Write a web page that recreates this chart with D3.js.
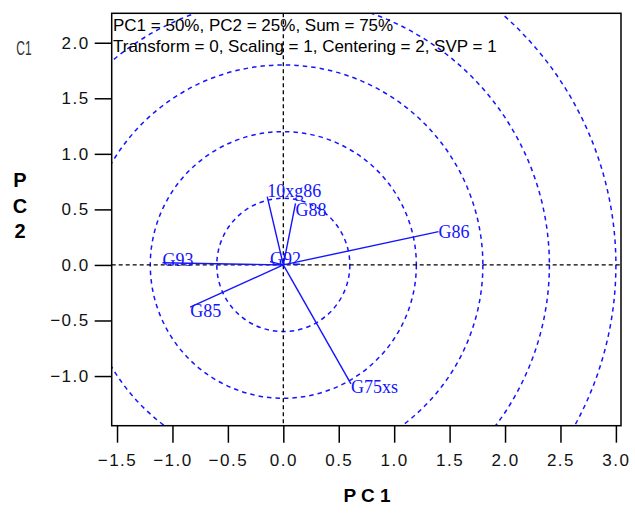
<!DOCTYPE html>
<html>
<head>
<meta charset="utf-8">
<script src="https://cdn.jsdelivr.net/npm/d3@7"></script>
<style>
  html, body { margin: 0; padding: 0; background: #fff; }
  svg { display: block; }
</style>
</head>
<body>
<svg id="chart" width="635" height="515"></svg>
<script>
// ---- data ----
const labels = ["G86", "G75xs", "G85", "G93", "10xg86", "G88", "G92"];
const pc1 = [1.40, 0.61, -0.84, -1.09, -0.145, 0.11, -0.12];
const pc2 = [0.30, -1.07, -0.38, 0.02, 0.615, 0.555, 0.03];
const circleRadii = [0.6, 1.2, 1.8, 2.4, 3.0];
const xTicks = [-1.5, -1.0, -0.5, 0.0, 0.5, 1.0, 1.5, 2.0, 2.5, 3.0];
const yTicks = [-1.0, -0.5, 0.0, 0.5, 1.0, 1.5, 2.0];
const headerLines = ["PC1 = 50%, PC2 = 25%, Sum = 75%", "Transform = 0, Scaling = 1, Centering = 2, SVP = 1"];
const xTitle = "P C 1";
const yTitle = ["P", "C", "2"];
const cornerLabel = "C1";

// ---- layout ----
const frame = { left: 111.7, right: 621, top: 13.3, bottom: 425.7 };
const x = d3.scaleLinear().domain([-1.548, 3.046]).range([frame.left, frame.right]);
const y = d3.scaleLinear().domain([-1.447, 2.265]).range([frame.bottom, frame.top]);
// vertical label nudges (px) to avoid label collisions, as in the original
const labelNudge = { "G86": 0, "G75xs": 3, "G85": 4, "G93": -3, "10xg86": -6, "G88": 7, "G92": -3 };

const svg = d3.select("#chart");
const blue = "#1414ff";

svg.append("defs").append("clipPath").attr("id", "plotclip")
  .append("rect")
  .attr("x", frame.left).attr("y", frame.top)
  .attr("width", frame.right - frame.left).attr("height", frame.bottom - frame.top);

const plot = svg.append("g").attr("clip-path", "url(#plotclip)");

// concentric circles
plot.selectAll("ellipse.ring").data(circleRadii).enter().append("ellipse")
  .attr("class", "ring")
  .attr("cx", x(0)).attr("cy", y(0))
  .attr("rx", d => x(d) - x(0))
  .attr("ry", d => y(0) - y(d))
  .attr("fill", "none")
  .attr("stroke", blue)
  .attr("stroke-width", 1.5)
  .attr("stroke-dasharray", "4.5,4");

// crosshair
plot.append("line")
  .attr("x1", x(0)).attr("x2", x(0))
  .attr("y1", frame.top).attr("y2", frame.bottom)
  .attr("stroke", "#000").attr("stroke-width", 1.3).attr("stroke-dasharray", "4,3");
plot.append("line")
  .attr("x1", frame.left).attr("x2", frame.right)
  .attr("y1", y(0)).attr("y2", y(0))
  .attr("stroke", "#000").attr("stroke-width", 1.3).attr("stroke-dasharray", "4,3");

// vectors
const pts = labels.map((l, i) => ({ label: l, a: pc1[i], b: pc2[i] }));
plot.selectAll("line.vec").data(pts).enter().append("line")
  .attr("class", "vec")
  .attr("x1", x(0)).attr("y1", y(0))
  .attr("x2", d => x(d.a)).attr("y2", d => y(d.b))
  .attr("stroke", blue).attr("stroke-width", 1.4);

svg.selectAll("text.lab").data(pts).enter().append("text")
  .attr("class", "lab")
  .attr("x", d => x(d.a)).attr("y", d => y(d.b) + (labelNudge[d.label] || 0))
  .attr("dy", "0.33em")
  .attr("font-family", "'Liberation Serif', 'Times New Roman', serif")
  .attr("font-size", 18)
  .attr("fill", blue)
  .text(d => d.label);

// frame
svg.append("rect")
  .attr("x", frame.left).attr("y", frame.top)
  .attr("width", frame.right - frame.left).attr("height", frame.bottom - frame.top)
  .attr("fill", "none").attr("stroke", "#000").attr("stroke-width", 1.5);

// axes
const fmt = d3.format(".1f");
const xAxis = svg.append("g")
  .attr("transform", `translate(0,${frame.bottom})`)
  .call(d3.axisBottom(x).tickValues(xTicks).tickFormat(fmt).tickSize(17).tickPadding(11).tickSizeOuter(0));
const yAxis = svg.append("g")
  .attr("transform", `translate(${frame.left},0)`)
  .call(d3.axisLeft(y).tickValues(yTicks).tickFormat(fmt).tickSize(17).tickPadding(5).tickSizeOuter(0));
[xAxis, yAxis].forEach(g => {
  g.select(".domain").remove();
  g.selectAll(".tick line").attr("stroke", "#000").attr("stroke-width", 1.5);
  g.selectAll(".tick text")
    .attr("font-family", "'Liberation Sans', Arial, sans-serif")
    .attr("font-size", 17)
    .attr("letter-spacing", "1.5px")
    .attr("fill", "#111");
});

// header text
svg.selectAll("text.hdr").data(headerLines).enter().append("text")
  .attr("class", "hdr")
  .attr("x", 113)
  .attr("y", (d, i) => 31 + i * 21)
  .attr("font-family", "'Liberation Sans', Arial, sans-serif")
  .attr("font-size", 17)
  .attr("fill", "#000")
  .text(d => d);

// axis titles
svg.append("text")
  .attr("x", 367).attr("y", 502)
  .attr("text-anchor", "middle")
  .attr("font-family", "'Liberation Sans', Arial, sans-serif")
  .attr("font-weight", "bold").attr("font-size", 19)
  .attr("fill", "#000")
  .text(xTitle);
svg.selectAll("text.yt").data(yTitle).enter().append("text")
  .attr("class", "yt")
  .attr("x", 20).attr("y", (d, i) => 187 + i * 25.5)
  .attr("text-anchor", "middle")
  .attr("font-family", "'Liberation Sans', Arial, sans-serif")
  .attr("font-weight", "bold").attr("font-size", 20)
  .attr("fill", "#000")
  .text(d => d);

// corner label
svg.append("text")
  .attr("transform", "translate(24,55) scale(0.6,1)")
  .attr("text-anchor", "middle")
  .attr("font-family", "'Liberation Sans', Arial, sans-serif")
  .attr("font-size", 20)
  .attr("fill", "#333")
  .text(cornerLabel);
</script>
</body>
</html>
